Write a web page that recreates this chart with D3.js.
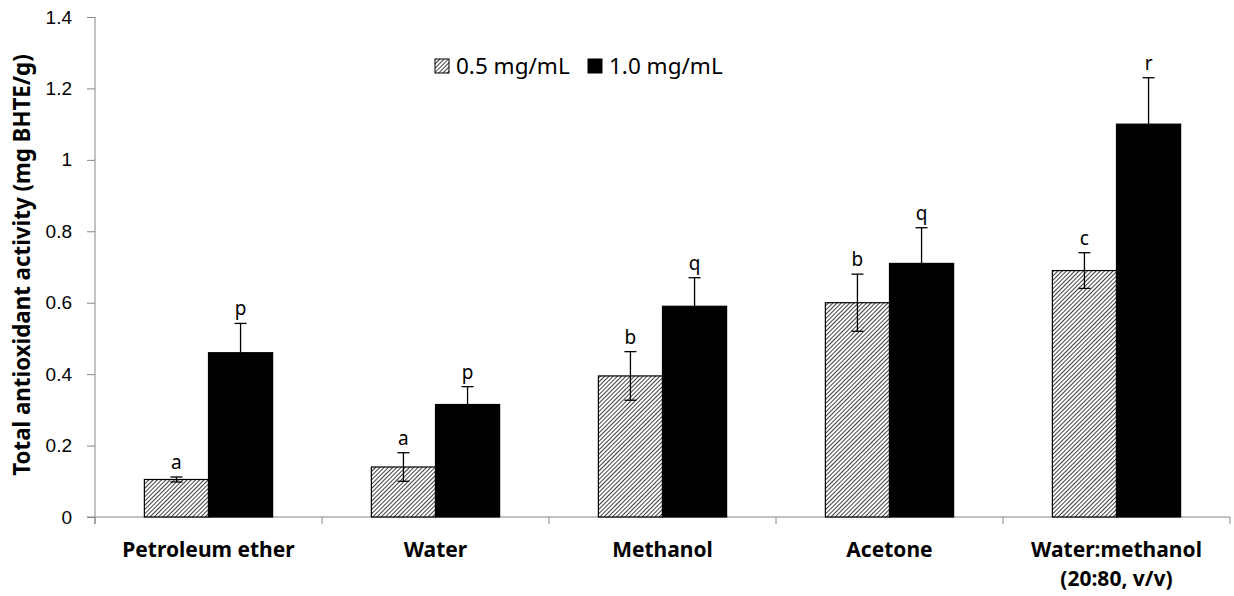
<!DOCTYPE html>
<html lang="en">
<head>
    <meta charset="UTF-8">
    <title>Total antioxidant activity</title>
    <script src="https://d3js.org/d3.v7.min.js"></script>
    <style>
        body { margin: 0; background: #fff; }
        svg { font-family: "Noto Sans", "Liberation Sans", sans-serif; }
    </style>
</head>
<body>
    <div id="chart"></div>
    <script>
        const categories = [["Petroleum ether"], ["Water"], ["Methanol"], ["Acetone"], ["Water:methanol", "(20:80, v/v)"]];
        const series = ["0.5 mg/mL", "1.0 mg/mL"];
        const low = [0.105, 0.14, 0.395, 0.60, 0.69];
        const lowErr = [0.007, 0.04, 0.068, 0.08, 0.05];
        const high = [0.46, 0.315, 0.59, 0.71, 1.10];
        const highErr = [0.082, 0.05, 0.08, 0.10, 0.13];
        const lowLetters = ["a", "a", "b", "b", "c"];
        const highLetters = ["p", "p", "q", "q", "r"];
        const yTicks = [0, 0.2, 0.4, 0.6, 0.8, 1, 1.2, 1.4];

        const width = 1234, height = 596;
        const margin = { top: 17, right: 4, bottom: 79, left: 95 };

        const svg = d3.select("#chart").append("svg")
            .attr("width", width)
            .attr("height", height);

        const defs = svg.append("defs");
        const pat = defs.append("pattern")
            .attr("id", "hatch")
            .attr("patternUnits", "userSpaceOnUse")
            .attr("width", 3)
            .attr("height", 3)
            .attr("patternTransform", "rotate(45)");
        pat.append("rect").attr("width", 3).attr("height", 3).attr("fill", "#fff");
        pat.append("line").attr("x1", 0).attr("y1", 0).attr("x2", 0).attr("y2", 3)
            .attr("stroke", "#000").attr("stroke-width", 1.5);

        const x0 = d3.scaleBand()
            .domain(d3.range(categories.length))
            .range([margin.left, width - margin.right]);

        const x1 = d3.scaleBand()
            .domain(series)
            .range([0, x0.bandwidth()])
            .paddingOuter(0.77);

        const y = d3.scaleLinear()
            .domain([0, 1.4])
            .range([height - margin.bottom, margin.top]);

        // axes
        const axisColor = "#868686";
        const yAxis = svg.append("g")
            .attr("transform", `translate(${margin.left},0)`)
            .call(d3.axisLeft(y).tickValues(yTicks).tickSize(8).tickPadding(15).tickFormat(d3.format("~g")));
        yAxis.select(".domain").attr("stroke", axisColor).attr("d", `M0,${y(1.4)}V${y(0) + 7}`);
        yAxis.selectAll(".tick line").attr("stroke", axisColor);
        yAxis.selectAll("text").attr("font-size", 19).attr("fill", "#000");

        const xAxis = svg.append("g")
            .attr("transform", `translate(0,${y(0)})`)
            .call(d3.axisBottom(x0).tickSize(0).tickFormat(""));
        xAxis.select(".domain").attr("stroke", axisColor).attr("d", `M${margin.left - 8},0H${width - margin.right}`);

        // category separator ticks
        svg.append("g").selectAll("line")
            .data(d3.range(categories.length + 1))
            .join("line")
            .attr("x1", i => i < categories.length ? x0(i) : x0(i - 1) + x0.bandwidth())
            .attr("x2", i => i < categories.length ? x0(i) : x0(i - 1) + x0.bandwidth())
            .attr("y1", y(0))
            .attr("y2", y(0) + 7)
            .attr("stroke", axisColor);

        // bars
        const rows = categories.map((c, i) => [
            { s: series[0], i, v: low[i], e: lowErr[i], l: lowLetters[i] },
            { s: series[1], i, v: high[i], e: highErr[i], l: highLetters[i] }
        ]).flat();

        const bar = svg.append("g").selectAll("g")
            .data(rows)
            .join("g")
            .attr("transform", d => `translate(${x0(d.i) + x1(d.s)},0)`);

        bar.append("rect")
            .attr("y", d => y(d.v))
            .attr("width", x1.bandwidth())
            .attr("height", d => y(0) - y(d.v))
            .attr("fill", d => d.s === series[0] ? "url(#hatch)" : "#000")
            .attr("stroke", "#000")
            .attr("stroke-width", 1.2);

        // error bars
        const cx = x1.bandwidth() / 2;
        bar.append("line")
            .attr("x1", cx).attr("x2", cx)
            .attr("y1", d => y(d.v - d.e))
            .attr("y2", d => y(d.v + d.e))
            .attr("stroke", "#000").attr("stroke-width", 1.3);
        bar.append("line")
            .attr("x1", cx - 6).attr("x2", cx + 6)
            .attr("y1", d => y(d.v + d.e)).attr("y2", d => y(d.v + d.e))
            .attr("stroke", "#000").attr("stroke-width", 1.3);
        bar.append("line")
            .attr("x1", cx - 6).attr("x2", cx + 6)
            .attr("y1", d => y(d.v - d.e)).attr("y2", d => y(d.v - d.e))
            .attr("stroke", "#000").attr("stroke-width", 1.3);

        bar.append("text")
            .attr("x", cx)
            .attr("y", d => y(d.v + d.e) - 8)
            .attr("text-anchor", "middle")
            .attr("font-size", 19)
            .text(d => d.l);

        // category labels
        const labels = svg.append("g").selectAll("text")
            .data(categories)
            .join("text")
            .attr("x", (d, i) => x0(i) + x0.bandwidth() / 2)
            .attr("y", 557)
            .attr("text-anchor", "middle")
            .attr("font-size", 21)
            .attr("font-weight", "bold");
        labels.selectAll("tspan")
            .data(d => d)
            .join("tspan")
            .attr("x", function () { return this.parentNode.getAttribute("x"); })
            .attr("dy", (d, j) => j === 0 ? 0 : 29)
            .text(d => d);

        // y title
        svg.append("text")
            .attr("transform", `translate(30,${(y(0) + y(1.4)) / 2 - 2}) rotate(-90)`)
            .attr("text-anchor", "middle")
            .attr("font-size", 22.3)
            .attr("font-weight", "bold")
            .text("Total antioxidant activity (mg BHTE/g)");

        // legend
        const legend = svg.append("g").attr("transform", "translate(435,59)");
        const lx = [0, 153];
        series.forEach((s, i) => {
            legend.append("rect")
                .attr("x", lx[i]).attr("y", 0)
                .attr("width", 14).attr("height", 14)
                .attr("fill", i === 0 ? "url(#hatch)" : "#000")
                .attr("stroke", "#000").attr("stroke-width", 1);
            legend.append("text")
                .attr("x", lx[i] + 21).attr("y", 15)
                .attr("font-size", 22.5)
                .text(s);
        });
    </script>
</body>
</html>
